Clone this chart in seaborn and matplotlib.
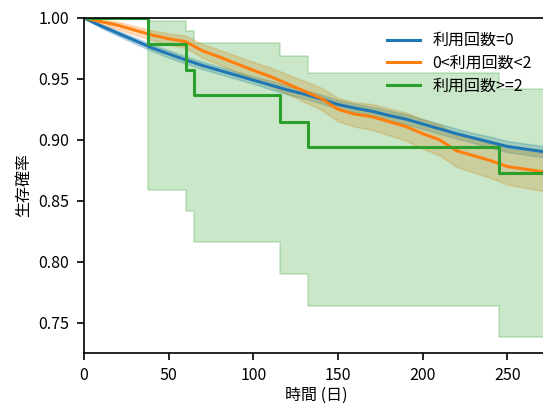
import matplotlib
matplotlib.use("Agg")
import matplotlib.pyplot as plt
import seaborn as sns
import numpy as np

# Kaplan-Meier estimates (days) with 95% confidence limits
t_grid = [0, 10, 20, 30, 40, 50, 60, 70, 80, 90, 100, 110, 120, 130, 140,
          150, 160, 170, 180, 190, 200, 210, 220, 230, 240, 250, 260, 270, 275]

surv_zero = [1.0, 0.9935, 0.9875, 0.9815, 0.9755, 0.9705, 0.9656, 0.961, 0.957,
             0.953, 0.949, 0.945, 0.941, 0.9375, 0.9335, 0.929, 0.926, 0.9235,
             0.920, 0.917, 0.913, 0.909, 0.905, 0.9015, 0.898, 0.8945, 0.8925,
             0.8905, 0.8895]
lo_zero = [1.0, 0.992, 0.9855, 0.979, 0.973, 0.9675, 0.9626, 0.958, 0.954, 0.950,
           0.946, 0.9415, 0.9375, 0.934, 0.930, 0.9255, 0.9225, 0.920, 0.916,
           0.913, 0.909, 0.905, 0.901, 0.8975, 0.8935, 0.890, 0.888, 0.886, 0.885]
hi_zero = [1.0, 0.995, 0.9895, 0.984, 0.978, 0.9735, 0.9686, 0.964, 0.960, 0.956,
           0.952, 0.9485, 0.9445, 0.941, 0.937, 0.9325, 0.9295, 0.927, 0.924,
           0.921, 0.917, 0.913, 0.909, 0.9055, 0.9025, 0.899, 0.897, 0.895, 0.894]

surv_one = [1.0, 0.997, 0.994, 0.990, 0.986, 0.983, 0.9806, 0.973, 0.968, 0.9625,
            0.957, 0.952, 0.946, 0.940, 0.934, 0.925, 0.921, 0.919, 0.915, 0.911,
            0.905, 0.900, 0.891, 0.887, 0.883, 0.878, 0.876, 0.874, 0.873]
lo_one = [1.0, 0.9948, 0.9908, 0.9863, 0.9818, 0.9783, 0.9754, 0.9673, 0.9618,
          0.9558, 0.9498, 0.9443, 0.9378, 0.9313, 0.9248, 0.9153, 0.9108, 0.9083,
          0.9038, 0.8993, 0.8928, 0.8873, 0.8778, 0.8733, 0.8688, 0.8633, 0.8608,
          0.8583, 0.8568]
hi_one = [1.0, 0.9988, 0.9968, 0.9933, 0.9898, 0.9873, 0.9854, 0.9783, 0.9738,
          0.9688, 0.9638, 0.9593, 0.9538, 0.9483, 0.9428, 0.9343, 0.9308, 0.9293,
          0.9258, 0.9223, 0.9168, 0.9123, 0.9038, 0.9003, 0.8968, 0.8923, 0.8908,
          0.8893, 0.8888]

t_two = [0, 38, 60, 65, 116, 132, 245, 275]
surv_two = [1.0, 0.979, 0.957, 0.937, 0.915, 0.894, 0.873, 0.873]
lo_two = [1.0, 0.859, 0.8412, 0.8158, 0.7896, 0.7639, 0.7385, 0.7385]
hi_two = [1.0, 0.9975, 0.9896, 0.9798, 0.9689, 0.9552, 0.9415, 0.9415]

labels = ["利用回数=0", "0<利用回数<2", "利用回数>=2"]
colors = ["#1f77b4", "#ff7f0e", "#2ca02c"]

plt.rcParams["font.family"] = ["Noto Sans CJK JP", "DejaVu Sans"]
plt.rcParams.update({
    "font.size": 11.5,
    "axes.linewidth": 1.2,
    "xtick.major.size": 5.3,
    "ytick.major.size": 5.3,
    "xtick.major.width": 1.2,
    "ytick.major.width": 1.2,
    "xtick.major.pad": 4.5,
    "ytick.major.pad": 5.5,
    "axes.labelpad": 2.0,
})

fig = plt.figure(figsize=(5.43, 4.05), dpi=100)
ax = fig.add_axes([0.1547, 0.1284, 0.8545, 0.8272])

series = [
    (t_grid, surv_zero, lo_zero, hi_zero, None),
    (t_grid, surv_one, lo_one, hi_one, None),
    (t_two, surv_two, lo_two, hi_two, "post"),
]
for (t, s, lo, hi, step), lab, col in zip(series, labels, colors):
    ds = "steps-post" if step else "default"
    sns.lineplot(x=t, y=s, ax=ax, color=col, label=lab, linewidth=2.2,
                 drawstyle=ds, estimator=None, sort=False)
    ax.fill_between(t, lo, hi, step=step, color=col, alpha=0.25, linewidth=1.2)

ax.set_xlim(0, 274)
ax.set_ylim(0.725, 1.0)
ax.set_yticks([0.75, 0.80, 0.85, 0.90, 0.95, 1.00])
ax.set_xticks([0, 50, 100, 150, 200, 250])
ax.set_xlabel("時間 (日)")
ax.set_ylabel("生存確率", labelpad=4.0)

ax.legend(loc="upper left", bbox_to_anchor=(0.686, 0.956),
          bbox_transform=fig.transFigure, frameon=False, labelspacing=0.35,
          handlelength=2.1, handletextpad=0.75)

fig.savefig("out.png", dpi=100)
